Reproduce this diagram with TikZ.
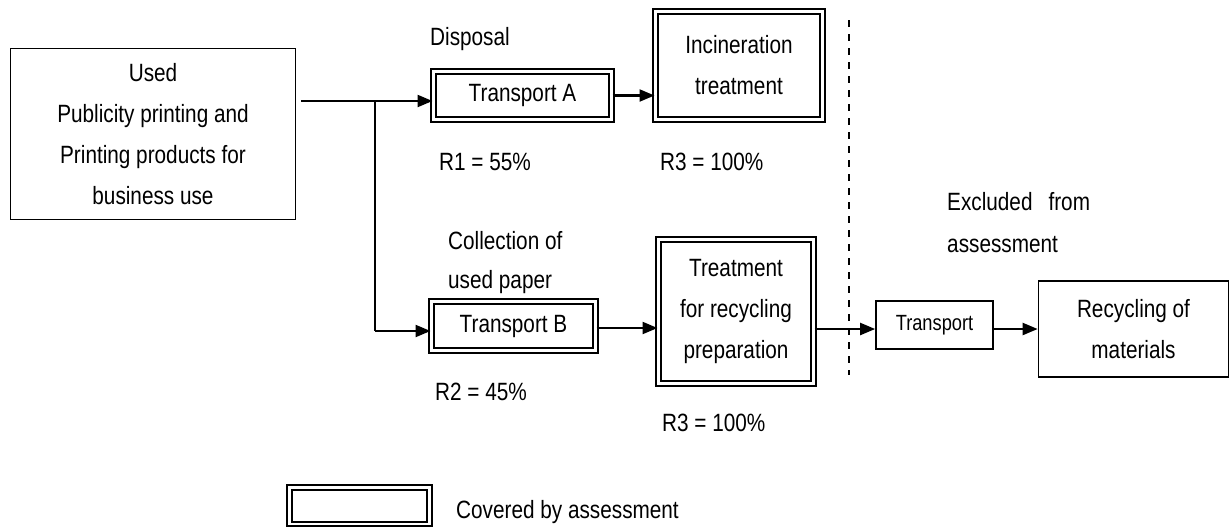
\documentclass[tikz,border=0pt]{standalone}
\usepackage{fontspec}
\setmainfont{Liberation Sans}[FakeStretch=0.83]
\usetikzlibrary{arrows.meta}
\newcommand{\dgfont}{\fontsize{25}{41}\selectfont}
\newcommand{\dgsmall}{\fontsize{22}{36}\selectfont}
\begin{document}
\begin{tikzpicture}[x=1pt,y=-1pt,
  box/.style={draw, line width=1.7pt, inner sep=0pt, align=center, font=\dgfont},
  dbox/.style={draw, line width=2pt, double=white, double distance=2.8pt, inner sep=0pt, align=center, font=\dgfont},
  arr/.style={line width=2.2pt, -{Triangle[length=15pt,width=12pt]}},
  lbl/.style={anchor=base west, inner sep=0pt, font=\dgfont},
  dashline/.style={line width=1.6pt, dash pattern=on 7pt off 7pt}
]
\useasboundingbox (0,0) rectangle (1230,528);

\node[box, minimum width=285pt, minimum height=171pt] (src) at (153,134)
  {Used\\Publicity printing and\\Printing products for\\business use};
\node[dbox, minimum width=178pt, minimum height=48pt] (tA) at (522.5,95.5) {Transport A};
\node[dbox, minimum width=167pt, minimum height=108pt] (inc) at (739,65.5) {Incineration\\treatment};
\node[dbox, minimum width=164pt, minimum height=49pt] (tB) at (513.5,326) {Transport B};
\node[dbox, minimum width=155pt, minimum height=144pt] (treat) at (736,311.5)
  {Treatment\\for recycling\\preparation};
\node[box, font=\dgsmall, minimum width=117pt, minimum height=48pt] (tr) at (934.5,325) {Transport};
\node[box, minimum width=190pt, minimum height=96pt] (rec) at (1133.5,329) {Recycling of\\materials};
\node[dbox, minimum width=140pt, minimum height=36.5pt] (leg) at (359.5,505.75) {};

\coordinate (j1) at (375,101);
\coordinate (j2) at (375,331);
\coordinate (c3) at (900,329);

\draw[arr, shorten <=5pt] (src.east |- j1) -- (tA.west |- j1);
\draw[line width=1.7pt] (j1) -- (j2);
\draw[arr] (j2) -- (j2 -| tB.west);
\draw[arr] (tA.east) -- (tA.east -| inc.west);
\draw[arr] ([yshift=-2pt]tB.east) -- ([yshift=-2pt]tB.east -| treat.west);
\draw[arr] (treat.east |- c3) -- (tr.west |- c3);
\draw[arr] (tr.east |- c3) -- (rec.west |- c3);

\draw[dashline] (849,20) -- (849,375);

\node[lbl] (disp) at (430,45) {Disposal};
\node[lbl] (r1) at (439,170) {R1 = 55\%};
\node[lbl] (r3a) at (660,170) {R3 = 100\%};
\node[lbl] (col1) at (448,249) {Collection of};
\node[lbl] (col2) at (448,288) {used paper};
\node[lbl] (r2) at (435,400) {R2 = 45\%};
\node[lbl] (r3b) at (662,431) {R3 = 100\%};
\node[lbl] (ex1) at (947,210) {Excluded\hspace{16pt}from};
\node[lbl] (ex2) at (947,252) {assessment};
\node[lbl] (cov) at (456,518) {Covered by assessment};
\end{tikzpicture}
\end{document}
